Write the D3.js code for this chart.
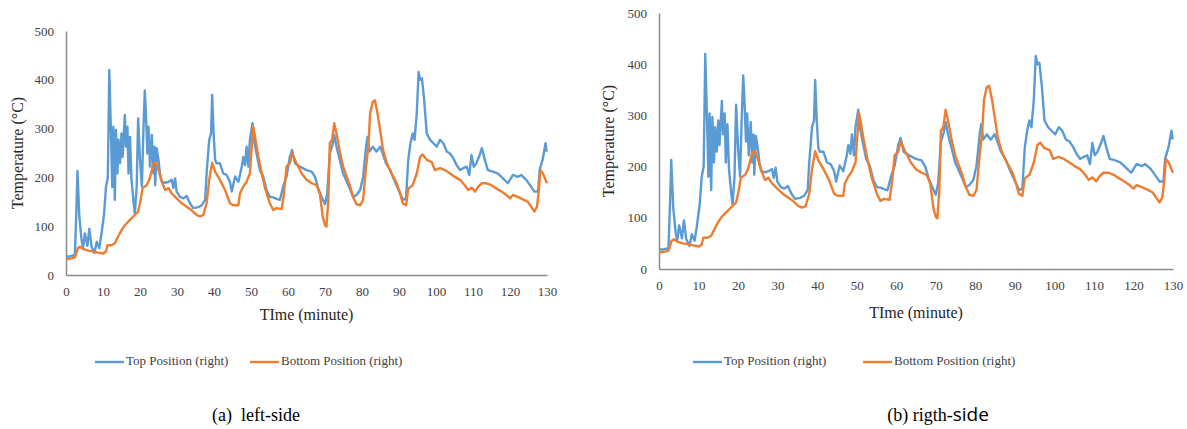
<!DOCTYPE html>
<html>
<head>
<meta charset="utf-8">
<script src="https://d3js.org/d3.v7.min.js"></script>
<style>
  html, body { margin: 0; padding: 0; background: #fff; }
  svg { display: block; }
</style>
</head>
<body>
<svg id="chart" width="1187" height="429"></svg>
<script>
const topTime = [0, 1, 2.4, 2.8, 3.1, 3.6, 4.2, 4.6, 5.1, 5.8, 6.3, 6.9, 7.7, 8.3, 9.0, 9.6, 10.3, 10.8, 11.3, 11.7,
  12.2, 12.5, 12.8, 13.2, 13.5, 13.9, 14.2, 14.6, 15.0, 15.3, 15.9, 16.2, 16.6, 16.9, 17.3, 17.7, 18.2, 18.6, 19.1,
  19.5, 20.0, 20.5, 20.9, 21.3, 21.6, 22.0, 22.3, 22.7, 23.2, 23.6, 23.9, 24.1, 24.5, 25.0, 25.4, 25.9, 26.8, 27.7,
  28.6, 29.0, 29.5, 29.9, 30.8, 31.7, 32.6, 33.5, 34.4, 35.8, 36.7, 37.6, 38.0, 38.7, 39.2, 39.5, 39.9, 40.3, 40.7,
  41.6, 42.5, 43.4, 44.3, 44.8, 45.7, 46.6, 47.5, 47.9, 48.4, 48.8, 49.3, 49.7, 50.4, 50.8, 51.5, 52.4, 53.3, 54.2,
  55.1, 56.0, 56.9, 57.8, 58.7, 59.6, 60.5, 61.1, 61.9, 63.2, 65.0, 66.4, 67.3, 68.2, 69.1, 70.0, 70.6, 71.3, 72.0,
  72.5, 73.1, 74.0, 74.9, 75.9, 76.7, 77.6, 78.5, 79.5, 80.3, 81.1, 81.5, 82.0, 82.9, 83.9, 84.9, 85.6, 86.5, 87.6,
  88.9, 90.3, 91.1, 91.9, 92.5, 93.1, 93.7, 94.2, 94.8, 95.3, 95.7, 96.2, 96.8, 97.5, 98.4, 99.3, 100.2, 101.1,
  102.0, 102.9, 103.8, 104.7, 105.6, 106.5, 107.4, 108.3, 109.0, 109.6, 110.2, 110.9, 111.8, 112.4, 113.1, 114.0,
  115.4, 116.7, 118.1, 119.4, 120.8, 122.1, 123.0, 124.4, 125.7, 126.6, 127.6, 128.0, 128.9, 129.6, 129.9];
const topTemp = [38, 38, 41, 130, 213, 120, 72, 55, 85, 60, 95, 58, 45, 68, 55, 85, 126, 180, 200, 420,
  277, 180, 304, 154, 297, 208, 277, 229, 290, 242, 328, 263, 304, 208, 283, 195, 154, 126, 181,
  321, 236, 181, 290, 378, 331, 249, 304, 222, 287, 208, 263, 184, 260, 236, 208, 191, 189, 191,
  195, 178, 198, 171, 160, 157, 162, 147, 137, 139, 143, 154, 208, 277, 290, 369, 290, 236, 229,
  229, 208, 205, 191, 171, 202, 191, 222, 242, 225, 263, 222, 277, 311, 277, 249, 215, 202, 174,
  160, 159, 156, 154, 181, 202, 242, 256, 229, 222, 215, 212, 201, 177, 160, 145, 167, 249, 266,
  287, 263, 236, 208, 191, 177, 160, 164, 174, 201, 263, 283, 253, 263, 253, 263, 249, 229, 215,
  191, 167, 154, 157, 236, 270, 290, 277, 331, 416, 400, 403, 359, 290, 277, 270, 263, 277,
  270, 253, 249, 239, 225, 215, 219, 222, 205, 246, 222, 229, 246, 260, 239, 215,
  212, 208, 198, 188, 205, 201, 205, 195, 181, 171, 171, 215, 239, 270, 253];

const bottomTime = [0, 1.5, 2.4, 3.2, 3.8, 4.7, 6.0, 7.4, 8.7, 10.1, 10.8, 11.2, 12.3, 13.2, 14.1, 15.0, 15.9,
  17.3, 18.6, 19.5, 20.0, 20.7, 21.8, 22.5, 23.2, 23.6, 24.3, 25.0, 25.9, 26.8, 27.7, 28.6, 29.9, 31.3, 32.6,
  33.9, 35.3, 36.2, 37.1, 38.0, 38.7, 39.5, 40.3, 41.6, 43.0, 44.3, 45.2, 46.6, 47.0, 47.9, 48.8, 49.3, 49.7,
  50.2, 50.6, 51.1, 52.0, 52.9, 53.8, 55.1, 56.0, 56.9, 58.3, 58.9, 59.6, 60.5, 61.1, 62.3, 63.7, 65.0, 66.4,
  67.7, 68.6, 69.4, 70.0, 70.4, 70.9, 71.3, 71.9, 72.5, 73.1, 74.0, 74.9, 75.9, 76.7, 77.6, 78.5, 79.5, 80.3,
  81.1, 81.7, 82.2, 82.9, 83.5, 84.2, 84.9, 85.7, 86.7, 88.0, 89.4, 90.3, 91.0, 91.9, 92.5, 93.7, 94.8, 95.7,
  96.4, 97.5, 98.8, 99.7, 101.1, 102.4, 103.8, 105.1, 106.5, 107.8, 108.7, 109.6, 110.6, 111.4, 112.4, 113.6,
  115.0, 116.4, 117.7, 119.0, 120.0, 120.8, 122.1, 123.5, 124.8, 125.7, 126.6, 127.3, 127.8, 128.2, 128.9,
  129.6, 130.0];
const bottomTemp = [32, 34, 36, 55, 58, 53, 50, 48, 46, 44, 48, 61, 61, 65, 79, 92, 102,
  113, 123, 130, 147, 178, 184, 195, 215, 229, 230, 215, 191, 174, 178, 167, 157, 147, 140,
  133, 123, 120, 123, 147, 195, 230, 212, 195, 174, 147, 143, 143, 167, 181, 191, 201, 208,
  263, 304, 283, 242, 208, 178, 147, 133, 137, 135, 167, 222, 229, 249, 229, 208, 195, 188,
  184, 167, 119, 102, 99, 154, 270, 277, 311, 290, 253, 222, 201, 184, 160, 145, 143, 154,
  222, 263, 331, 355, 358, 331, 297, 256, 229, 208, 188, 167, 147, 143, 177, 184, 208, 242,
  247, 236, 232, 215, 219, 215, 208, 201, 195, 184, 174, 179, 171, 181, 188, 188,
  184, 177, 171, 164, 157, 164, 160, 155, 150, 140, 130, 140, 174, 215, 208,
  195, 188];

const yTicks = [0, 100, 200, 300, 400, 500];
const xTicks = [0, 10, 20, 30, 40, 50, 60, 70, 80, 90, 100, 110, 120, 130];
const seriesNames = ['Top Position (right)', 'Bottom Position (right)'];
const seriesColors = ['#5b9bd5', '#ed7d31'];

const SERIF = "'Liberation Serif', 'Times New Roman', serif";
const SANS = "'Open Sans', 'Noto Sans', sans-serif";

const topSeries = topTime.map((t, i) => ({ t, v: topTemp[i] }));
const bottomSeries = bottomTime.map((t, i) => ({ t, v: bottomTemp[i] }));

// ---- panel geometry ----
const panels = [
  { x0: 66, x1: 547, y0: 275, y1: 31, yTitleX: 19, xTitleY: 320, legendX: 95, legendY: 362,
    legendGap: 155, caption: [['(a)\u00a0\u00a0left-side', SERIF, 18]], captionX: 256 },
  { x0: 659, x1: 1173, y0: 269, y1: 13, yTitleX: 610, xTitleY: 318, legendX: 693, legendY: 362,
    legendGap: 170, caption: [['(b) rigth-', SERIF, 18], ['side', SANS, 19]], captionX: 938 }
];

const svg = d3.select('#chart');

const drawPanel = (p) => {
  const x = d3.scaleLinear().domain([0, 130]).range([p.x0, p.x1]);
  const y = d3.scaleLinear().domain([0, 500]).range([p.y0, p.y1]);
  const g = svg.append('g').attr('font-family', SERIF);

  // axes
  const yAxis = g.append('g')
    .attr('transform', `translate(${p.x0},0)`)
    .call(d3.axisLeft(y).tickValues(yTicks).tickSize(0).tickPadding(12));
  const xAxis = g.append('g')
    .attr('transform', `translate(0,${p.y0})`)
    .call(d3.axisBottom(x).tickValues(xTicks).tickSize(0).tickPadding(12));
  [yAxis, xAxis].forEach(a => {
    a.attr('font-family', SERIF).attr('font-size', 13);
    a.select('.domain').attr('stroke', '#8c8c8c').attr('stroke-width', 1.5);
    a.selectAll('text').attr('fill', '#404040');
  });

  // lines
  const line = d3.line().x(d => x(d.t)).y(d => y(d.v));
  [topSeries, bottomSeries].forEach((s, i) => {
    g.append('path')
      .datum(s)
      .attr('fill', 'none')
      .attr('stroke', seriesColors[i])
      .attr('stroke-width', 2.4)
      .attr('stroke-linejoin', 'round')
      .attr('d', line);
  });

  // axis titles
  g.append('text')
    .attr('transform', `translate(${p.yTitleX},${(p.y0 + p.y1) / 2}) rotate(-90)`)
    .attr('text-anchor', 'middle')
    .attr('dominant-baseline', 'middle')
    .attr('font-size', 16)
    .attr('fill', '#262626')
    .text('Temperature (°C)');
  g.append('text')
    .attr('x', (p.x0 + p.x1) / 2)
    .attr('y', p.xTitleY)
    .attr('text-anchor', 'middle')
    .attr('font-size', 16)
    .attr('fill', '#262626')
    .text('TIme (minute)');

  // legend
  seriesNames.forEach((name, i) => {
    const lx = p.legendX + i * p.legendGap;
    g.append('line')
      .attr('x1', lx).attr('x2', lx + 29)
      .attr('y1', p.legendY).attr('y2', p.legendY)
      .attr('stroke', seriesColors[i]).attr('stroke-width', 2.4);
    g.append('text')
      .attr('x', lx + 31).attr('y', p.legendY)
      .attr('dominant-baseline', 'middle')
      .attr('font-size', 13)
      .attr('fill', '#404040')
      .text(name);
  });

  // caption
  const cap = g.append('text')
    .attr('x', p.captionX).attr('y', 421)
    .attr('text-anchor', 'middle')
    .attr('fill', '#000');
  p.caption.forEach(([txt, fam, size]) => {
    cap.append('tspan').attr('font-family', fam).attr('font-size', size).text(txt);
  });
};

panels.forEach(drawPanel);
</script>
</body>
</html>
